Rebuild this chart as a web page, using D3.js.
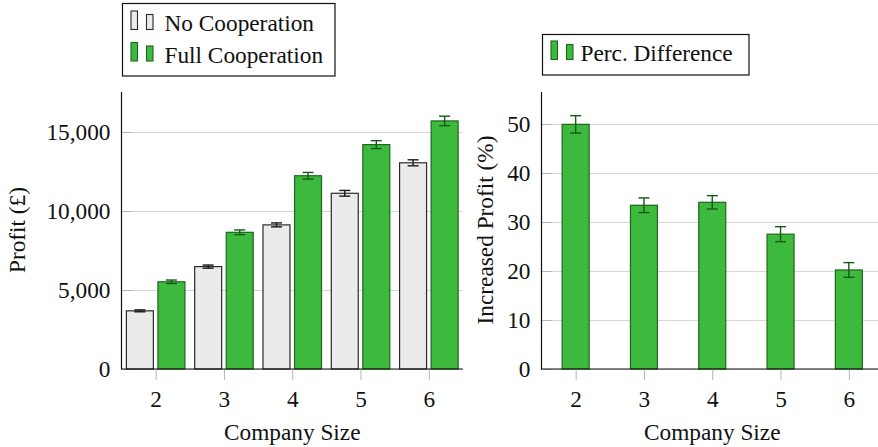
<!DOCTYPE html>
<html>
<head>
<meta charset="utf-8">
<script src="https://cdn.jsdelivr.net/npm/d3@7"></script>
<style>
  html, body { margin: 0; padding: 0; background: #fff; }
  svg { display: block; }
</style>
</head>
<body>
<svg id="chart" width="878" height="447"></svg>
<script>
// Company sizes on the x axis
const sizes = [2, 3, 4, 5, 6];

// Profit (£) with and without cooperation, with error margins
const noCoop      = [3680, 6480, 9120, 11120, 13050];
const noCoopErr   = [60, 100, 125, 180, 190];
const fullCoop    = [5520, 8650, 12230, 14200, 15700];
const fullCoopErr = [110, 150, 210, 250, 300];

// Percentage increase in profit from full cooperation
const percDiff    = [49.9, 33.4, 34.0, 27.5, 20.2];
const percErr     = [1.77, 1.5, 1.36, 1.53, 1.5];

// Tick values
const profitTicks = [0, 5000, 10000, 15000];
const percTicks   = [0, 10, 20, 30, 40, 50];

const GREEN = "#3dba3d", GREEN_EDGE = "#1e651e", GREEN_ERR = "#185818";
const GREY = "#ebebeb", GREY_EDGE = "#2a2a2a", GREY_ERR = "#1a1a1a";
const FONT = 23.3;
const FAMILY = '"Liberation Serif", Tinos, "Times New Roman", serif';

const svg = d3.select("#chart");

function styleText(sel) {
  return sel.style("font-family", FAMILY).style("font-size", FONT + "px").style("fill", "#111");
}

function panel(opts) {
  const g = svg.append("g");
  const x = d3.scaleLinear().domain([1.5, 6.5]).range(opts.xRange);
  const y = d3.scaleLinear().domain(opts.yDomain).range([369, 92]);
  const unit = x(1) - x(0);
  const x0 = opts.xRange[0], x1 = Math.min(opts.xRange[1], 878);

  // horizontal grid
  g.append("g").selectAll("line").data(opts.ticks).join("line")
    .attr("x1", x0).attr("x2", x1)
    .attr("y1", d => Math.round(y(d)) + 0.5).attr("y2", d => Math.round(y(d)) + 0.5)
    .attr("stroke", "#d6d6d6").attr("stroke-width", 1);
  // short tick marks along the y axis
  g.append("g").selectAll("line").data(opts.ticks).join("line")
    .attr("x1", x0).attr("x2", x0 + 11)
    .attr("y1", d => Math.round(y(d)) + 0.5).attr("y2", d => Math.round(y(d)) + 0.5)
    .attr("stroke", "#b5b5b5").attr("stroke-width", 1);

  // bars
  opts.series.forEach(s => {
    const bw = unit * 0.395;
    const bg = g.append("g");
    bg.selectAll("rect").data(sizes).join("rect")
      .attr("x", (d, i) => x(d) + s.offset * unit - bw / 2)
      .attr("y", (d, i) => y(s.values[i]))
      .attr("width", bw)
      .attr("height", (d, i) => y(0) - y(s.values[i]))
      .attr("fill", s.fill).attr("stroke", s.edge).attr("stroke-width", 1.2);
    // error bars
    const eg = g.append("g").attr("stroke", s.err).attr("stroke-width", 1.4).attr("fill", "none");
    sizes.forEach((d, i) => {
      const cx = x(d) + s.offset * unit;
      const top = y(s.values[i] + s.errs[i]), bot = y(s.values[i] - s.errs[i]);
      eg.append("line").attr("x1", cx).attr("x2", cx).attr("y1", top).attr("y2", bot);
      eg.append("line").attr("x1", cx - 5.5).attr("x2", cx + 5.5).attr("y1", top).attr("y2", top);
      eg.append("line").attr("x1", cx - 5.5).attr("x2", cx + 5.5).attr("y1", bot).attr("y2", bot);
    });
  });

  // axes
  const yAxis = d3.axisLeft(y).tickValues(opts.ticks).tickSize(0).tickPadding(11)
    .tickFormat(opts.fmt);
  const ya = g.append("g").attr("transform", `translate(${x0},0)`).call(yAxis);
  ya.select(".domain").remove();
  styleText(ya.selectAll("text")).attr("dy", "0.33em");

  const xAxis = d3.axisBottom(x).tickValues(sizes).tickSize(11).tickPadding(10).tickFormat(d3.format("d"));
  const xa = g.append("g").attr("transform", `translate(0,369)`).call(xAxis);
  xa.select(".domain").remove();
  xa.selectAll(".tick line").attr("stroke", "#b5b5b5");
  styleText(xa.selectAll("text"));

  g.append("line").attr("x1", x0).attr("x2", x0).attr("y1", 92).attr("y2", 369.5)
    .attr("stroke", "#111").attr("stroke-width", 1.2);
  g.append("line").attr("x1", x0).attr("x2", x1).attr("y1", 369).attr("y2", 369)
    .attr("stroke", "#111").attr("stroke-width", 1.2);

  // axis titles
  styleText(g.append("text").attr("x", (x(2) + x(6)) / 2).attr("y", 440)
    .attr("text-anchor", "middle").text("Company Size"));
  styleText(g.append("text").attr("transform", `translate(${opts.yTitleX},230) rotate(-90)`)
    .attr("text-anchor", "middle").text(opts.yTitle));

  return { x, y };
}

panel({
  xRange: [121.5, 463],
  yDomain: [0, 17530],
  ticks: profitTicks,
  fmt: d3.format(","),
  yTitle: "Profit (£)",
  yTitleX: 25,
  series: [
    { values: noCoop, errs: noCoopErr, offset: -0.231, fill: GREY, edge: GREY_EDGE, err: GREY_ERR },
    { values: fullCoop, errs: fullCoopErr, offset: 0.231, fill: GREEN, edge: GREEN_EDGE, err: GREEN_ERR }
  ]
});

panel({
  xRange: [541.5, 883],
  yDomain: [0, 56.5],
  ticks: percTicks,
  fmt: d3.format("d"),
  yTitle: "Increased Profit (%)",
  yTitleX: 493,
  series: [
    { values: percDiff, errs: percErr, offset: 0, fill: GREEN, edge: GREEN_EDGE, err: GREEN_ERR }
  ]
});

// legends
function legend(box, textOffset, entries) {
  const g = svg.append("g");
  g.append("rect").attr("x", box.x).attr("y", box.y).attr("width", box.w).attr("height", box.h)
    .attr("fill", "#fff").attr("stroke", "#111").attr("stroke-width", 1.2);
  entries.forEach(e => {
    g.append("rect").attr("x", box.x + 8.5).attr("y", e.base - 19).attr("width", 6.5).attr("height", 18.5)
      .attr("fill", e.fill).attr("stroke", e.edge).attr("stroke-width", 1.1);
    g.append("rect").attr("x", box.x + 24).attr("y", e.base - 15.5).attr("width", 6.5).attr("height", 15)
      .attr("fill", e.fill).attr("stroke", e.edge).attr("stroke-width", 1.1);
    styleText(g.append("text").attr("x", box.x + textOffset).attr("y", e.base + 1).text(e.label));
  });
}

legend({ x: 122.5, y: 3.5, w: 212.5, h: 72.5 }, 42, [
  { label: "No Cooperation", fill: GREY, edge: GREY_EDGE, base: 30 },
  { label: "Full Cooperation", fill: GREEN, edge: GREEN_EDGE, base: 61.5 }
]);
legend({ x: 542.5, y: 34.5, w: 206.5, h: 40.5 }, 38, [
  { label: "Perc. Difference", fill: GREEN, edge: GREEN_EDGE, base: 60 }
]);
</script>
</body>
</html>
